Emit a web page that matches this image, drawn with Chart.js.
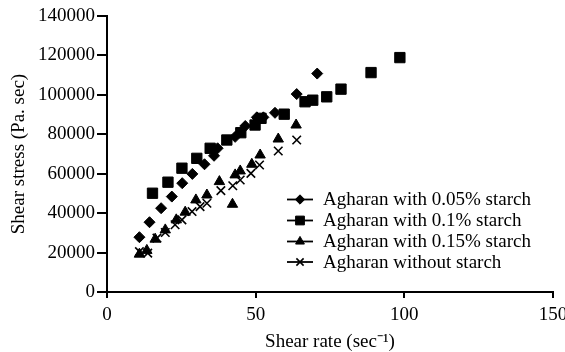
<!DOCTYPE html>
<html>
<head>
<meta charset="utf-8">
<script src="https://cdn.jsdelivr.net/npm/chart.js@4/dist/chart.umd.min.js"></script>
<style>
html,body{margin:0;padding:0;background:#fff;}
#wrap{width:565px;height:352px;position:relative;}
</style>
</head>
<body>
<div id="wrap"><canvas id="c" width="565" height="352"></canvas></div>
<script>
const seriesLabels = ["Agharan with 0.05% starch","Agharan with 0.1% starch","Agharan with 0.15% starch","Agharan without starch"];

const rate005 = [10.9,14.3,18.2,21.8,25.3,28.7,32.8,36.0,37.2,43.1,46.5,50.4,52.6,56.5,63.8,70.7];
const stress005 = [27800,35400,42500,48400,55200,59900,64800,69100,72900,78700,84200,88600,88600,90900,100400,110800];

const rate01 = [15.3,20.5,25.2,30.2,34.7,40.3,45.0,49.8,51.8,59.6,66.6,69.2,73.9,78.7,88.8,98.5];
const stress01 = [50100,55700,62800,67800,72900,77100,80800,84700,88100,90200,96500,97300,99000,102900,111300,118900];

const rate015 = [10.9,13.4,16.2,19.6,23.3,26.3,29.9,33.6,37.8,42.2,43.1,44.8,48.7,51.5,57.6,63.6];
const stress015 = [19200,21100,26800,31500,36600,40500,46700,49200,56000,44500,59400,61400,64800,69500,77600,84700];

const rate0 = [10.9,13.7,16.8,19.6,22.9,25.2,28.6,31.3,33.6,38.3,42.3,44.8,48.4,51.3,57.6,63.8];
const stress0 = [20500,19700,27300,30200,34100,36600,40800,43300,45000,51400,53900,56800,60200,64400,71500,77100];

const xTicks = [0,50,100,150];
const yTicks = [0,20000,40000,60000,80000,100000,120000,140000];

const styles = [
  {pointStyle:'rectRot', radius:5.5, bw:1},
  {pointStyle:'rect', radius:7.3, bw:1},
  {pointStyle:'triangle', radius:6, bw:1},
  {pointStyle:'crossRot', radius:6, bw:1.6}
];
const rates = [rate005, rate01, rate015, rate0];
const stresses = [stress005, stress01, stress015, stress0];

const FONT = "'Liberation Serif', 'Times New Roman', serif";

const datasets = seriesLabels.map((lab,i)=>({
  label: lab,
  data: rates[i].map((x,j)=>({x:x, y:stresses[i][j]})),
  pointStyle: styles[i].pointStyle,
  pointRadius: styles[i].radius,
  pointHoverRadius: styles[i].radius,
  pointBackgroundColor: '#000',
  pointBorderColor: '#000',
  pointBorderWidth: styles[i].bw,
  showLine: false
}));

const legendPlugin = {
  id: 'customLegend',
  afterDraw(chart){
    const ctx = chart.ctx;
    ctx.save();
    const x0 = 287, x1 = 313, tx = 323;
    const ys = [199.5, 220.5, 241.5, 262];
    chart.data.datasets.forEach((ds,i)=>{
      const y = ys[i];
      ctx.strokeStyle = '#000';
      ctx.lineWidth = 1.8;
      ctx.beginPath(); ctx.moveTo(x0,y); ctx.lineTo(x1,y); ctx.stroke();
      ctx.fillStyle = '#000';
      ctx.lineWidth = styles[i].bw;
      Chart.helpers.drawPoint(ctx, {pointStyle: styles[i].pointStyle, radius: styles[i].radius*0.85, rotation:0, borderWidth: styles[i].bw}, (x0+x1)/2, y);
      ctx.font = "19px " + FONT;
      ctx.textBaseline = 'middle';
      ctx.textAlign = 'left';
      ctx.fillText(ds.label, tx, y+1);
    });
    ctx.restore();
  }
};

new Chart(document.getElementById('c'), {
  type: 'scatter',
  data: {datasets},
  plugins: [legendPlugin],
  options: {
    responsive: false,
    animation: false,
    events: [],
    layout: {padding: {left:0, right:12, top:16, bottom:0}},
    plugins: {legend:{display:false}, tooltip:{enabled:false}},
    scales: {
      x: {
        type:'linear', min:0, max:150,
        afterBuildTicks: s => { s.ticks = xTicks.map(v=>({value:v})); },
        afterFit: s => { s.height = 60; s.paddingLeft = 0; s.paddingRight = 0; },
        border: {display:true, color:'#000', width:2},
        grid: {display:true, drawOnChartArea:false, drawTicks:true, tickLength:6, color:'#000', lineWidth:2},
        ticks: {color:'#000', font:{family:FONT, size:19}, padding:6, maxRotation:0, autoSkip:false},
        title: {display:true, text:'Shear rate (sec\u207B\u00B9)', color:'#000', font:{family:FONT, size:19}, padding:{top:0,bottom:-1}}
      },
      y: {
        type:'linear', min:0, max:140000,
        afterBuildTicks: s => { s.ticks = yTicks.map(v=>({value:v})); },
        afterFit: s => { s.width = 107; s.paddingTop = 0; s.paddingBottom = 0; },
        border: {display:true, color:'#000', width:2},
        grid: {display:true, drawOnChartArea:false, drawTicks:true, tickLength:10, color:'#000', lineWidth:2},
        ticks: {color:'#000', font:{family:FONT, size:19}, padding:2, autoSkip:false, callback: v => String(v)},
        title: {display:true, text:'Shear stress (Pa. sec)', color:'#000', font:{family:FONT, size:19}, padding:{top:8,bottom:0}}
      }
    }
  }
});
</script>
</body>
</html>
